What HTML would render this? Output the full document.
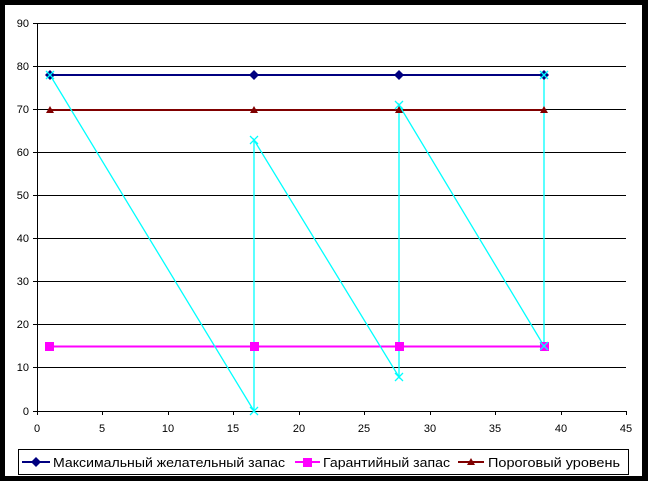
<!DOCTYPE html><html><head><style>body{margin:0;background:#000}svg{display:block}</style></head><body>
<svg width="648" height="481" xmlns="http://www.w3.org/2000/svg" font-family="Liberation Sans, sans-serif" font-size="11">
<rect x="0" y="0" width="648" height="481" fill="#000"/>
<rect x="5" y="5" width="637" height="471" fill="#fff"/>
<g stroke="#000" stroke-width="1">
<line x1="37" y1="23.5" x2="626" y2="23.5"/><line x1="37" y1="66.5" x2="626" y2="66.5"/><line x1="37" y1="109.5" x2="626" y2="109.5"/><line x1="37" y1="152.5" x2="626" y2="152.5"/><line x1="37" y1="195.5" x2="626" y2="195.5"/><line x1="37" y1="238.5" x2="626" y2="238.5"/><line x1="37" y1="281.5" x2="626" y2="281.5"/><line x1="37" y1="324.5" x2="626" y2="324.5"/><line x1="37" y1="367.5" x2="626" y2="367.5"/>
<line x1="37.5" y1="23" x2="37.5" y2="411"/><line x1="37" y1="411.5" x2="626" y2="411.5"/>
</g>
<g stroke="#000">
<line x1="33" y1="23.5" x2="37" y2="23.5"/><line x1="33" y1="66.5" x2="37" y2="66.5"/><line x1="33" y1="109.5" x2="37" y2="109.5"/><line x1="33" y1="152.5" x2="37" y2="152.5"/><line x1="33" y1="195.5" x2="37" y2="195.5"/><line x1="33" y1="238.5" x2="37" y2="238.5"/><line x1="33" y1="281.5" x2="37" y2="281.5"/><line x1="33" y1="324.5" x2="37" y2="324.5"/><line x1="33" y1="367.5" x2="37" y2="367.5"/><line x1="33" y1="411.5" x2="37" y2="411.5"/>
<line x1="37.5" y1="411" x2="37.5" y2="415"/><line x1="102.5" y1="411" x2="102.5" y2="415"/><line x1="168.5" y1="411" x2="168.5" y2="415"/><line x1="233.5" y1="411" x2="233.5" y2="415"/><line x1="299.5" y1="411" x2="299.5" y2="415"/><line x1="364.5" y1="411" x2="364.5" y2="415"/><line x1="430.5" y1="411" x2="430.5" y2="415"/><line x1="495.5" y1="411" x2="495.5" y2="415"/><line x1="561.5" y1="411" x2="561.5" y2="415"/><line x1="626.5" y1="411" x2="626.5" y2="415"/>
</g>
<g text-anchor="end">
<text x="29" y="27">90</text><text x="29" y="70">80</text><text x="29" y="113">70</text><text x="29" y="156">60</text><text x="29" y="199">50</text><text x="29" y="242">40</text><text x="29" y="285">30</text><text x="29" y="328">20</text><text x="29" y="371">10</text><text x="29" y="415">0</text>
</g>
<g text-anchor="middle">
<text x="37" y="432">0</text><text x="102" y="432">5</text><text x="168" y="432">10</text><text x="233" y="432">15</text><text x="299" y="432">20</text><text x="364" y="432">25</text><text x="430" y="432">30</text><text x="495" y="432">35</text><text x="561" y="432">40</text><text x="626" y="432">45</text>
</g>
<line x1="50" y1="75" x2="544" y2="75" stroke="#000080" stroke-width="2"/>
<line x1="50" y1="110" x2="544" y2="110" stroke="#800000" stroke-width="2"/>
<line x1="50" y1="346.5" x2="544" y2="346.5" stroke="#ff00ff" stroke-width="2"/>
<polyline points="50,75 254,411 254,140 399,377 399,105 544,346 544,75" fill="none" stroke="#00ffff" stroke-width="1.3"/>
<g fill="#000080"><path d="M50,70l5,5l-5,5l-5,-5z"/><path d="M254,70l5,5l-5,5l-5,-5z"/><path d="M399,70l5,5l-5,5l-5,-5z"/><path d="M544,70l5,5l-5,5l-5,-5z"/></g>
<g fill="#800000"><path d="M50,106l4,7h-8z"/><path d="M254,106l4,7h-8z"/><path d="M399,106l4,7h-8z"/><path d="M544,106l4,7h-8z"/></g>
<g fill="#ff00ff"><rect x="45" y="342" width="9" height="9"/><rect x="250" y="342" width="9" height="9"/><rect x="395" y="342" width="9" height="9"/><rect x="540" y="342" width="9" height="9"/></g>
<g stroke="#00ffff" stroke-width="1.3"><path d="M46,71l8,8M54,71l-8,8M250,407l8,8M258,407l-8,8M250,136l8,8M258,136l-8,8M395,373l8,8M403,373l-8,8M395,101l8,8M403,101l-8,8M540,342l8,8M548,342l-8,8M540,71l8,8M548,71l-8,8"/></g>
<rect x="18.5" y="449.5" width="610" height="25" fill="#fff" stroke="#000"/>
<line x1="22" y1="462" x2="50" y2="462" stroke="#000080" stroke-width="2"/><path d="M36,457l5,5l-5,5l-5,-5z" fill="#000080"/>
<text x="53" y="467" font-size="13" textLength="232" lengthAdjust="spacingAndGlyphs">Максимальный желательный запас</text>
<line x1="295" y1="462" x2="320" y2="462" stroke="#ff00ff" stroke-width="2"/><rect x="303" y="458" width="9" height="9" fill="#ff00ff"/>
<text x="323" y="467" font-size="13" textLength="127" lengthAdjust="spacingAndGlyphs">Гарантийный запас</text>
<line x1="458" y1="462" x2="484" y2="462" stroke="#800000" stroke-width="2"/><path d="M471,458l4,7h-8z" fill="#800000"/>
<text x="488" y="467" font-size="13" textLength="132" lengthAdjust="spacingAndGlyphs">Пороговый уровень</text>
</svg></body></html>
